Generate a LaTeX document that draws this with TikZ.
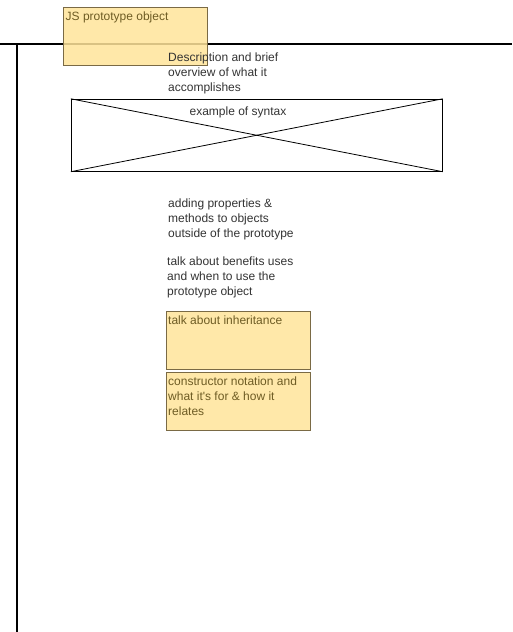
\documentclass[tikz,border=0pt]{standalone}
\usepackage{fontspec}
\setmainfont{Liberation Sans}
\definecolor{notefill}{HTML}{FFE49A}
\definecolor{notedraw}{HTML}{7A6A45}
\definecolor{notetext}{HTML}{6E5C24}
\definecolor{plaintext}{HTML}{333333}
\begin{document}
\begin{tikzpicture}[x=1pt,y=-1pt,
  note/.style={draw=notedraw, fill=notefill, fill opacity=0.85, text opacity=1, text=notetext,
    minimum width=144pt, minimum height=58pt, inner sep=0pt, anchor=north west},
  notelabel/.style={text=notetext, anchor=north west, inner sep=0pt, align=left, font=\fontsize{12}{15}\selectfont},
  plain/.style={text=plaintext, anchor=north west, inner sep=0pt, align=left, font=\fontsize{12}{15}\selectfont},
  heavy/.style={line width=2pt, black}]
\useasboundingbox (0,0) rectangle (512,632);
% frame lines
\coordinate (hl) at (0,44);
\coordinate (hr) at (512,44);
\coordinate (vt) at (17,44);
\coordinate (vb) at (17,632);
\draw[heavy] (hl) -- (hr);
\draw[heavy] (vt) -- (vb);
% title note
\node[note] (title) at (62.8,6.8) {};
\node[notelabel] (titlet) at (65.5,11.5) {JS prototype object};
% description
\node[plain] (desc) at (168,53) {Description and brief\\overview of what it\\accomplishes};
% syntax box
\node[draw=black, line width=0.9pt, minimum width=371pt, minimum height=72pt, inner sep=0pt, anchor=north west] (syn) at (70.8,98.8) {};
\draw[line width=0.8pt] (syn.north west) -- (syn.south east);
\draw[line width=0.8pt] (syn.south west) -- (syn.north east);
\node[plain, anchor=north] (synt) at (238,107) {example of syntax};
% texts
\node[plain] (adding) at (168,199) {adding properties \&\\methods to objects\\outside of the prototype};
\node[plain] (benefits) at (167,257) {talk about benefits uses\\and when to use the\\prototype object};
% notes
\node[note] (inh) at (165.8,310.8) {};
\node[notelabel] (inht) at (168,316) {talk about inheritance};
\node[note] (con) at (165.8,371.8) {};
\node[notelabel] (cont) at (168,377) {constructor notation and\\what it\textquotesingle s for \& how it\\relates};
\end{tikzpicture}
\end{document}
